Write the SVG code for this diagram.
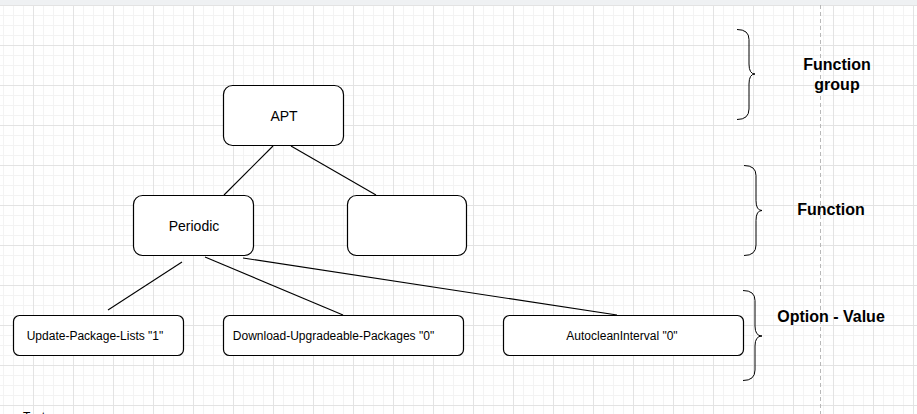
<svg xmlns="http://www.w3.org/2000/svg" width="917" height="414" viewBox="0 0 917 414">
  <style>
    .node rect { fill: #ffffff; stroke: #000000; stroke-width: 1.2; }
    .lbl { font-family: "Liberation Sans", Arial, sans-serif; fill: #000000; text-anchor: middle; }
    .big { font-size: 14px; }
    .small { font-size: 12px; }
    .side { font-family: "Liberation Sans", Arial, sans-serif; font-weight: bold; font-size: 16px; fill: #000000; text-anchor: middle; }
    .edge { stroke: #000000; stroke-width: 1.1; fill: none; }
    .brace { stroke: #000000; stroke-width: 1; fill: none; }
  </style>
  <defs>
    <pattern id="grid" patternUnits="userSpaceOnUse" x="-7" y="5" width="40" height="40">
      <path d="M10.5 0V40M20.5 0V40M30.5 0V40M0 10.5H40M0 20.5H40M0 30.5H40" stroke="#f3f3f3" stroke-width="1" fill="none"/>
      <path d="M0.5 0V40M0 0.5H40" stroke="#e3e3e3" stroke-width="1" fill="none"/>
    </pattern>
  </defs>
  <rect x="0" y="0" width="917" height="414" fill="#ffffff"/>
  <rect x="0" y="5" width="917" height="409" fill="url(#grid)"/>
  <rect x="0" y="0" width="917" height="5" fill="#eff1f3"/>
  <line x1="820.5" y1="5" x2="820.5" y2="414" stroke="#b8b8b8" stroke-width="1" stroke-dasharray="4 3"/>

  <g id="connectors">
    <line class="edge" x1="273" y1="146" x2="224" y2="195"/>
    <line class="edge" x1="291" y1="146" x2="376" y2="195"/>
    <line class="edge" x1="182" y1="262" x2="108" y2="310"/>
    <line class="edge" x1="205" y1="257" x2="343" y2="315"/>
    <line class="edge" x1="243" y1="258" x2="617" y2="315"/>
  </g>

  <g id="node-apt" class="node">
    <rect x="223.5" y="85.5" width="120" height="60" rx="9"/>
    <text class="lbl big" x="284" y="121">APT</text>
  </g>
  <g id="node-periodic" class="node">
    <rect x="133.5" y="195.5" width="120" height="60" rx="9"/>
    <text class="lbl big" x="194" y="231">Periodic</text>
  </g>
  <g id="node-empty" class="node">
    <rect x="347.5" y="195.5" width="119" height="60" rx="9"/>
  </g>
  <g id="node-update" class="node">
    <rect x="13.5" y="315.5" width="170" height="40" rx="6"/>
    <text class="lbl small" x="95" y="340">Update-Package-Lists "1"</text>
  </g>
  <g id="node-download" class="node">
    <rect x="223.5" y="315.5" width="240" height="40" rx="6"/>
    <text class="lbl small" x="333.5" y="340">Download-Upgradeable-Packages "0"</text>
  </g>
  <g id="node-autoclean" class="node">
    <rect x="503.5" y="315.5" width="240" height="40" rx="6"/>
    <text class="lbl small" x="622" y="340">AutocleanInterval "0"</text>
  </g>

  <g id="brace-function-group">
    <path class="brace" d="M737 29.5Q749 29.5 749 39.5L749 64Q749 74 755 74Q749 74 749 84L749 109Q749 119.5 737 119.5"/>
    <text class="side" x="837" y="70">Function</text>
    <text class="side" x="837" y="90">group</text>
  </g>
  <g id="brace-function">
    <path class="brace" d="M744 165.5Q756 165.5 756 175.5L756 200.5Q756 210.5 762 210.5Q756 210.5 756 220.5L756 245Q756 255.5 744 255.5"/>
    <text class="side" x="831" y="215">Function</text>
  </g>
  <g id="brace-option-value">
    <path class="brace" d="M743 290.5Q755 290.5 755 300.5L755 326Q755 336 762 336Q755 336 755 346L755 370Q755 380.5 743 380.5"/>
    <text class="side" x="831" y="322">Option - Value</text>
  </g>

  <text x="23" y="421" font-family="Liberation Sans, Arial, sans-serif" font-size="12" fill="#000000">Text</text>
</svg>
